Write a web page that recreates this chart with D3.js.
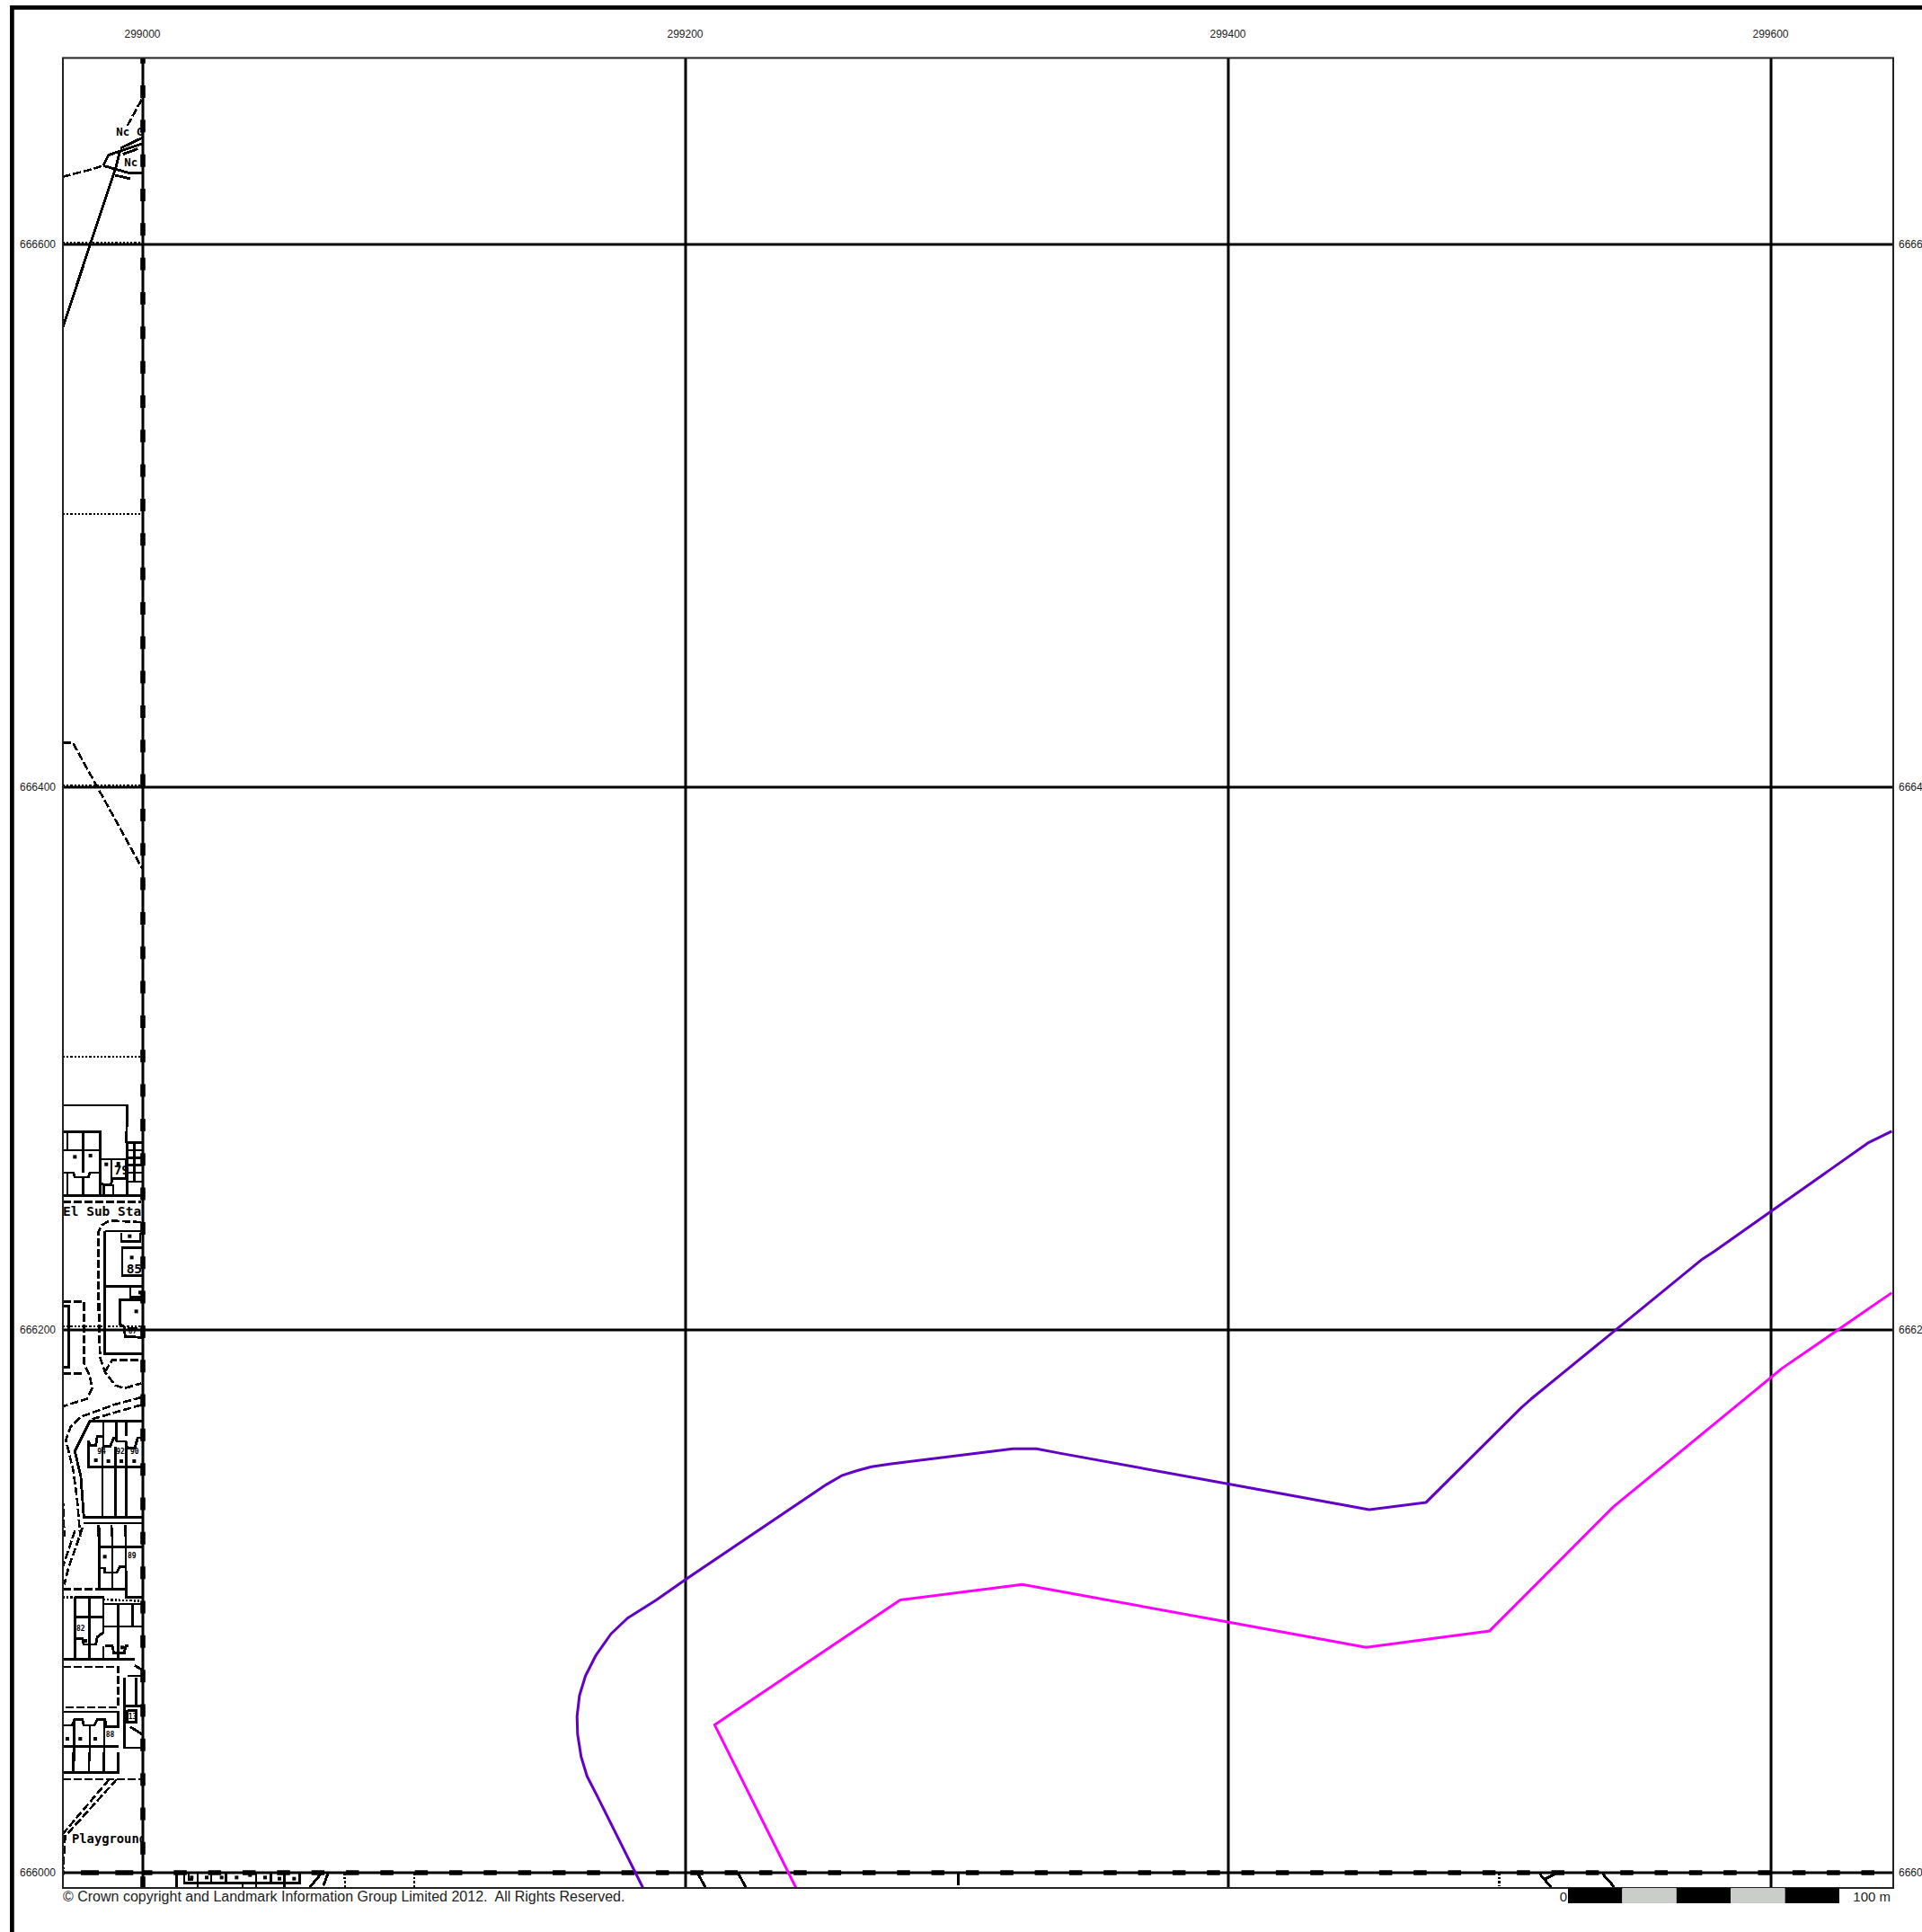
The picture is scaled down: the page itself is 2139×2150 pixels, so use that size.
<!DOCTYPE html>
<html><head><meta charset="utf-8">
<script src="https://cdn.jsdelivr.net/npm/d3@7"></script>
<style>
html,body{margin:0;padding:0;background:#fff;overflow:hidden}
svg{display:block}
text{font-family:"Liberation Sans",sans-serif}
</style></head><body>
<div id="chart"></div>
<script>
// ---- axes
const eastTicks = [299000, 299200, 299400, 299600];
const northTicks = [666600, 666400, 666200, 666000];

// ---- buffer lines: easting / northing in metres
const outerEast = [299184.3,299167.5,299163.7,299161.5,299160.2,299160,299160.9,299163.1,299167,299172.5,299178.6,299189.1,299199.5,299252,299257.5,299263,299268.5,299275.2,299320.6,299329.3,299337.8,299400.2,299451.9,299472.8,299508.1,299511.5,299543.2,299574.3,299579,299600,299635.7,299644.5];
const outerNorth = [665994.4,666028.1,666035.5,666042.7,666051,666057.6,666065.3,666072.5,666080.2,666088,666093.8,666100.4,666107.7,666143.1,666146.3,666148.1,666149.6,666150.6,666156.2,666156.2,666154.6,666143.2,666133.8,666136.4,666171.5,666174.5,666200.4,666225.8,666228.9,666243.7,666268.9,666273.2];
const innerEast = [299240.7,299210.7,299279.1,299324.1,299400.2,299450.8,299496.3,299541.9,299604,299644.5];
const innerNorth = [665994.4,666054.5,666100.5,666106.2,666092.3,666083,666089.1,666134.8,666185.8,666213.7];

// ---- scale bar
const scaleBarStops = [0, 20, 40, 60, 80, 100];

// ---- base map, digitised per sheet: plan units are 1/9.06 m from each sheet's corner
const planUnit = 1 / 9.06;
const sheetTop = {e: 298947.35, n: 666690.07};
const sheetA = {e: 298963.9, n: 666431.8};
const sheetB = {e: 298963.9, n: 666292.7};
const sheetC = {e: 298963.9, n: 666209.93};
const sheetD = {e: 298963.9, n: 666127.15};
const sheetE = {e: 298963.9, n: 666044.37};
const sheetF = {e: 299493.7, n: 666011.26};

const topSolid = [
 [[209,1095],[300,820],[385,565],[402,500]],
 [[345,553],[362,518],[400,505],[475,480]],
 [[402,495],[475,460]],
 [[410,515],[460,497]],
 [[385,585],[435,597]],
 [[345,553],[385,565],[430,577],[475,577]]
];
const topDashed = [
 [[425,420],[477,325]],
 [[209,590],[300,567],[345,553]]
];
const topDotted = [[[209,810],[475,810]]];

const aDashed = [[[60,139],[93,139],[325,560]]];
const aDotted = [[[60,283],[325,283]],[[60,1188],[325,1188]],[[60,-624],[325,-624]]];

const bSolid = [
 [[60,90],[275,90],[272,215]],
 [[60,178],[185,178],[185,392]],
 [[75,178],[75,240]],[[127,178],[127,315]],
 [[60,240],[185,240]],
 [[60,315],[95,315],[100,330],[145,330],[150,315],[185,315]],
 [[75,315],[75,392]],[[127,330],[127,392]],
 [[185,270],[270,270]],[[222,270],[222,340]],[[270,270],[270,335]],
 [[185,350],[198,355],[220,355],[225,335],[270,335]],
 [[197,355],[197,392]],[[228,355],[228,392]],
 [[275,215],[325,215]],[[275,215],[275,392]],[[275,240],[325,240]],[[275,265],[325,265]],[[275,290],[325,290]],[[275,315],[325,315]],[[275,345],[325,345]],[[298,215],[298,345]],
 [[60,392],[322,392]],
 [[200,510],[325,510]],[[200,510],[200,780]],
 [[255,515],[255,545],[318,545],[318,515]],
 [[325,565],[258,565],[258,658],[325,658]],
 [[200,695],[325,695]],
 [[285,700],[285,730],[325,730]],
 [[325,740],[250,740],[250,780]],
 [[60,760],[80,760],[80,780]]
];
const bDashed = [
 [[60,412],[322,412]],
 [[320,480],[215,475],[190,490],[178,515],[178,780]],
 [[60,745],[130,745],[130,780]]
];

const cSolid = [
 [[60,10],[80,10],[80,215],[60,215]],
 [[198,0],[200,170],[325,170]],
 [[250,0],[250,70],[265,80],[268,112],[325,115]],
 [[275,85],[310,85]],
 [[325,395],[150,395],[100,495],[120,580],[130,715],[325,715]],
 [[195,395],[195,445]],[[238,395],[238,455]],[[272,395],[272,445]],
 [[145,460],[145,548],[325,548]],
 [[145,460],[150,475],[170,475],[175,445],[195,445],[195,478],[218,478],[230,450],[238,450],[240,462],[270,462],[275,485],[300,485],[310,450],[325,450]],
 [[192,480],[192,715]],[[235,480],[235,715]],[[272,470],[272,715]],
 [[130,735],[325,735]],
 [[178,740],[178,780]],[[222,740],[222,780]],[[268,740],[268,780]]
];
const cDashed = [
 [[130,0],[130,200],[150,245],[158,285],[140,320],[60,345]],
 [[60,235],[130,235]],
 [[182,0],[182,130],[185,185],[200,230],[235,275],[265,285],[322,268]],
 [[200,230],[225,190],[322,190]],
 [[322,315],[230,340],[120,380],[85,415],[70,458],[95,560],[108,660],[118,780]],
 [[322,340],[150,390]],
 [[60,650],[65,780]]
];
const cDotted = [[[60,78],[325,78]]];

const dSolid = [
 [[182,0],[182,205]],[[225,0],[225,205]],[[270,0],[270,130]],
 [[182,65],[325,65]],
 [[182,135],[200,135],[200,150],[240,150],[250,130],[270,130],[272,232],[325,232]],
 [[182,205],[270,205]],
 [[100,232],[100,435]],[[100,232],[195,232],[195,350]],[[148,232],[148,435]],
 [[100,298],[195,298]],[[195,255],[325,255]],[[245,255],[245,435]],[[292,255],[292,330]],
 [[195,330],[325,330]],[[195,395],[195,435]],
 [[100,370],[125,370],[130,390],[170,390],[175,365],[195,350]],
 [[200,395],[225,395],[230,418],[265,418],[270,395],[280,395]],
 [[60,440],[300,440]],[[300,460],[325,475]],
 [[60,615],[245,615],[245,665],[205,665],[200,640],[175,640],[165,660],[130,660],[125,640],[100,640],[90,660],[60,660]],
 [[98,640],[98,780]],[[150,660],[150,780]],[[198,640],[198,780]],
 [[265,500],[265,735],[325,735]],[[275,495],[320,495]],[[305,500],[305,600]],[[265,595],[325,595]],
 [[275,610],[305,610],[305,650],[275,650],[275,610]],
 [[285,665],[325,690]],
 [[60,730],[245,730]]
];
const dDashed = [
 [[125,0],[105,60],[80,130],[65,190]],
 [[100,10],[60,130]],
 [[60,205],[182,205]],
 [[60,465],[245,465],[245,600],[60,600]]
];
const dDotted = [[[60,232],[100,232]],[[195,240],[320,245]]];

const eSolid = [
 [[60,0],[60,68],[245,68],[245,0]],
 [[95,0],[95,68]],[[147,0],[147,68]],[[197,0],[197,68]],
 [[465,400],[465,437],[850,437],[850,400]],
 [[440,405],[440,450]],
 [[510,400],[510,450]],[[555,400],[555,437]],[[605,400],[605,437]],[[660,437],[660,450]],[[705,400],[705,450]],[[755,400],[755,437]],[[800,400],[800,450]],
 [[480,405],[480,425],[495,425]],
 [[885,450],[925,402]],[[930,445],[945,405]],
 [[2180,405],[2205,450]],[[2315,405],[2340,450]],
 [[3050,405],[3050,445]]
];
const eDashed = [
 [[60,90],[325,90]],
 [[215,90],[62,270]],[[240,90],[68,280]],
 [[68,275],[60,400]]
];
const eDotted = [[[1000,405],[1003,450]],[[1233,405],[1233,450]],[[2139,405],[2139,450]],[[3951,430],[3951,450]]];
const fSolid = [
 [[190,105],[228,150]],[[245,105],[205,125]],[[400,105],[440,150]]
];
const fDotted = [[[55,105],[55,148]]];

// plan labels: [u, v, text]
const mapLabelsTop = [[388,452,"Nc G"],[415,556,"Nc"]];
const mapLabelsB = [[60,458,"El Sub Sta"],[230,322,"79"],[272,650,"85"]];
const mapLabelsC = [[175,503,"94"],[238,503,"92"],[285,503,"90"],[278,103,"87"]];
const mapLabelsD = [[276,103,"89"],[105,345,"82"],[203,700,"88"],[278,640,"13"]];
const mapLabelsE = [[90,303,"Playground"]];

// small building marks: [u, v]
const marksB = [[100,262],[152,258],[205,287],[245,285],[290,598],[283,527],[318,715]];
const marksC = [[170,525],[212,528],[255,528],[298,528],[305,28]];
const marksD = [[75,705],[118,705],[168,705],[200,97],[135,378],[258,400]];
const marksE = [[490,418],[540,418],[590,418],[640,418],[685,410],[735,418],[783,422],[832,422]];

// ---- page layout
const W = 2139, H = 2150;
const plot = {left: 70, right: 2107, top: 64.5, bottom: 2101};

const x = d3.scaleLinear().domain([299000, 299600]).range([159, 1971]);
const y = d3.scaleLinear().domain([666000, 666600]).range([2084, 272]);

const svg = d3.select("#chart").append("svg").attr("width", W).attr("height", H);
svg.append("rect").attr("width", W).attr("height", H).attr("fill", "#fff");

const defs = svg.append("defs");
defs.append("clipPath").attr("id", "plotClip").append("rect")
  .attr("x", plot.left).attr("y", plot.top).attr("width", plot.right - plot.left).attr("height", plot.bottom - plot.top);
defs.append("clipPath").attr("id", "stripClip").append("rect")
  .attr("x", plot.left).attr("y", plot.top).attr("width", x(299000) - plot.left + 1).attr("height", plot.bottom - plot.top);

const line = d3.line().x(d => x(d[0])).y(d => y(d[1]));
const place = (sheet, pts) => pts.map(([u, v]) => [sheet.e + u * planUnit, sheet.n - v * planUnit]);

// outer frame
svg.append("path").attr("fill", "none").attr("stroke", "#000").attr("stroke-width", 4.7)
  .attr("d", `M13.4,${H}V8.4H${W}`);

const map = svg.append("g").attr("clip-path", "url(#plotClip)");
const base = map.append("g").attr("fill", "none").attr("stroke", "#000").attr("shape-rendering", "crispEdges");

function drawLines(sheet, lines, width, dash) {
  base.append("g").selectAll("path").data(lines).join("path")
    .attr("d", l => line(place(sheet, l)))
    .attr("stroke-width", width)
    .attr("stroke-dasharray", dash);
}
const solidW = 2.9, dashedW = 2.6, dotW = 2.4;
[[sheetTop, topSolid],[sheetB, bSolid],[sheetC, cSolid],[sheetD, dSolid],[sheetE, eSolid],[sheetF, fSolid]]
  .forEach(([s, l]) => drawLines(s, l, solidW, null));
[[sheetTop, topDashed],[sheetA, aDashed],[sheetB, bDashed],[sheetC, cDashed],[sheetD, dDashed],[sheetE, eDashed]]
  .forEach(([s, l]) => drawLines(s, l, dashedW, "9 3"));
[[sheetTop, topDotted],[sheetA, aDotted],[sheetC, cDotted],[sheetD, dDotted],[sheetE, eDotted],[sheetF, fDotted]]
  .forEach(([s, l]) => drawLines(s, l, dotW, "2.2 2"));

[[sheetB, marksB],[sheetC, marksC],[sheetD, marksD],[sheetE, marksE]].forEach(([s, m]) => {
  map.append("g").selectAll("rect").data(place(s, m)).join("rect")
    .attr("x", d => x(d[0]) - 2).attr("y", d => y(d[1]) - 2)
    .attr("width", 4).attr("height", 4).attr("fill", "#000");
});

const labelG = svg.append("g").attr("clip-path", "url(#stripClip)");
[[sheetTop, mapLabelsTop, 12.5],[sheetB, mapLabelsB, 14.5],[sheetC, mapLabelsC, 8],[sheetD, mapLabelsD, 8],[sheetE, mapLabelsE, 13.8]]
 .forEach(([s, l, size]) => {
  labelG.append("g").selectAll("text").data(l).join("text")
   .attr("x", d => x(s.e + d[0] * planUnit))
   .attr("y", d => y(s.n - d[1] * planUnit))
   .attr("font-size", size)
   .attr("font-weight", "bold")
   .style("font-family", "'DejaVu Sans Mono',monospace")
   .text(d => d[2]);
 });

// grid
const grid = svg.append("g").attr("stroke", "#000").attr("stroke-width", 3);
grid.selectAll(".v").data(eastTicks).join("line").attr("class", "v")
  .attr("x1", d => x(d)).attr("x2", d => x(d)).attr("y1", plot.top).attr("y2", plot.bottom);
grid.selectAll(".h").data(northTicks).join("line").attr("class", "h")
  .attr("y1", d => y(d)).attr("y2", d => y(d)).attr("x1", plot.left).attr("x2", plot.right);

// heavy dashed boundary on the 299000 / 666000 lines
const heavy = svg.append("g").attr("fill", "none").attr("stroke", "#000").attr("stroke-width", 5.6);
heavy.append("line").attr("x1", x(299000)).attr("x2", x(299000)).attr("y1", plot.top).attr("y2", plot.bottom)
  .attr("stroke-dasharray", "14 24.33").attr("stroke-dashoffset", 7.83);
heavy.append("line").attr("y1", y(666000)).attr("y2", y(666000)).attr("x1", plot.left).attr("x2", x(299000))
  .attr("stroke-dasharray", "20 18.33").attr("stroke-dashoffset", 18.33);
heavy.append("line").attr("y1", y(666000)).attr("y2", y(666000)).attr("x1", x(299000)).attr("x2", plot.right)
  .attr("stroke-dasharray", "14.5 23.83").attr("stroke-dashoffset", 4);

// buffer lines
const buffers = svg.append("g").attr("clip-path", "url(#plotClip)").attr("fill", "none").attr("stroke-width", 3).attr("stroke-linejoin", "round");
buffers.append("path").attr("stroke", "#6200c8").attr("d", line(d3.zip(outerEast, outerNorth)));
buffers.append("path").attr("stroke", "#ff00ff").attr("d", line(d3.zip(innerEast, innerNorth)));

// plot border
svg.append("rect").attr("x", plot.left).attr("y", plot.top).attr("width", plot.right - plot.left).attr("height", plot.bottom - plot.top)
  .attr("fill", "none").attr("stroke", "#222").attr("stroke-width", 2);

// axes (labels only)
const fmt = d3.format("d");
function styleAxis(g) {
  g.select(".domain").remove();
  g.selectAll("text").attr("font-size", 12).attr("fill", "#222").style("font-family", "'Liberation Sans',sans-serif");
}
svg.append("g").attr("transform", "translate(-1,42)")
  .call(d3.axisTop(x).tickValues(eastTicks).tickFormat(fmt).tickSize(0).tickPadding(0)).call(styleAxis);
svg.append("g").attr("transform", `translate(${plot.left - 8},0)`)
  .call(d3.axisLeft(y).tickValues(northTicks).tickFormat(fmt).tickSize(0).tickPadding(0)).call(styleAxis);
svg.append("g").attr("transform", `translate(${plot.right + 6},0)`)
  .call(d3.axisRight(y).tickValues(northTicks).tickFormat(fmt).tickSize(0).tickPadding(0)).call(styleAxis);

// footer
svg.append("text").attr("x", plot.left).attr("y", 2115.7).attr("font-size", 16).attr("fill", "#222")
  .style("white-space", "pre")
  .text("© Crown copyright and Landmark Information Group Limited 2012.  All Rights Reserved.");

// scale bar
const barX = d3.scaleLinear().domain([0, 100]).range([1745, 1745 + x(299100) - x(299000)]);
const barColors = ["#000", "#cbcdcb"];
svg.append("g").selectAll("rect").data(d3.pairs(scaleBarStops)).join("rect")
  .attr("x", d => barX(d[0])).attr("width", d => barX(d[1]) - barX(d[0]))
  .attr("y", plot.bottom).attr("height", 17)
  .attr("fill", (d, i) => barColors[i % 2]);
svg.append("text").attr("x", barX(0) - 1).attr("y", 2115.7).attr("text-anchor", "end").attr("font-size", 15).attr("fill", "#222").text("0");
svg.append("text").attr("x", plot.right - 3).attr("y", 2115.7).attr("text-anchor", "end").attr("font-size", 15).attr("fill", "#222").text("100 m");
</script>
</body></html>
